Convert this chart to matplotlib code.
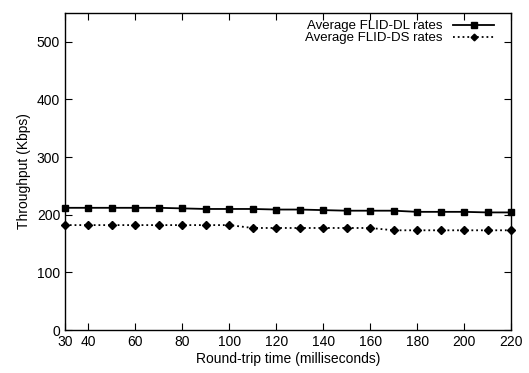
import matplotlib
matplotlib.use('Agg')
import matplotlib.pyplot as plt

plt.rcParams['font.family'] = ['Liberation Sans', 'DejaVu Sans']

rtt = [30, 40, 50, 60, 70, 80, 90, 100, 110, 120, 130, 140, 150, 160, 170, 180, 190, 200, 210, 220]
flid_dl = [212, 212, 212, 212, 212, 211, 210, 210, 210, 209, 209, 208, 207, 207, 207, 205, 205, 205, 204, 204]
flid_ds = [182, 182, 182, 182, 182, 182, 182, 182, 177, 177, 177, 177, 177, 177, 173, 173, 173, 173, 173, 173]
xticks = [30, 40, 60, 80, 100, 120, 140, 160, 180, 200, 220]
yticks = [0, 100, 200, 300, 400, 500]

fig = plt.figure(figsize=(5.29, 3.73), dpi=100)
ax = fig.add_axes([65/529, 1-330/373, (511-65)/529, (330-13)/373])

ax.plot(rtt, flid_dl, color='black', linestyle='-', linewidth=1.3, marker='s', markersize=5,
        label='Average FLID-DL rates', clip_on=False, zorder=3)
ax.plot(rtt, flid_ds, color='black', linestyle=':', linewidth=1.3, marker='D', markersize=4,
        label='Average FLID-DS rates', clip_on=False, zorder=3)

ax.set_xlim(30, 220)
ax.set_ylim(0, 550)
ax.set_xticks(xticks)
ax.set_yticks(yticks)
ax.tick_params(direction='in', length=5, top=True, right=True, labelsize=10, width=0.8)
for s in ax.spines.values():
    s.set_linewidth(1.0)
ax.set_xlabel('Round-trip time (milliseconds)', fontsize=10, labelpad=2)
ax.set_ylabel('Throughput (Kbps)', fontsize=10, labelpad=4)

ax.legend(loc='upper right', frameon=False, markerfirst=False, fontsize=9.5,
          bbox_to_anchor=(1 - 9/446, 1 + 1/317),
          handlelength=3.1, borderaxespad=0.2, labelspacing=0.0, handletextpad=0.8,
          markerscale=0.85)

fig.savefig('out.png', dpi=100)
